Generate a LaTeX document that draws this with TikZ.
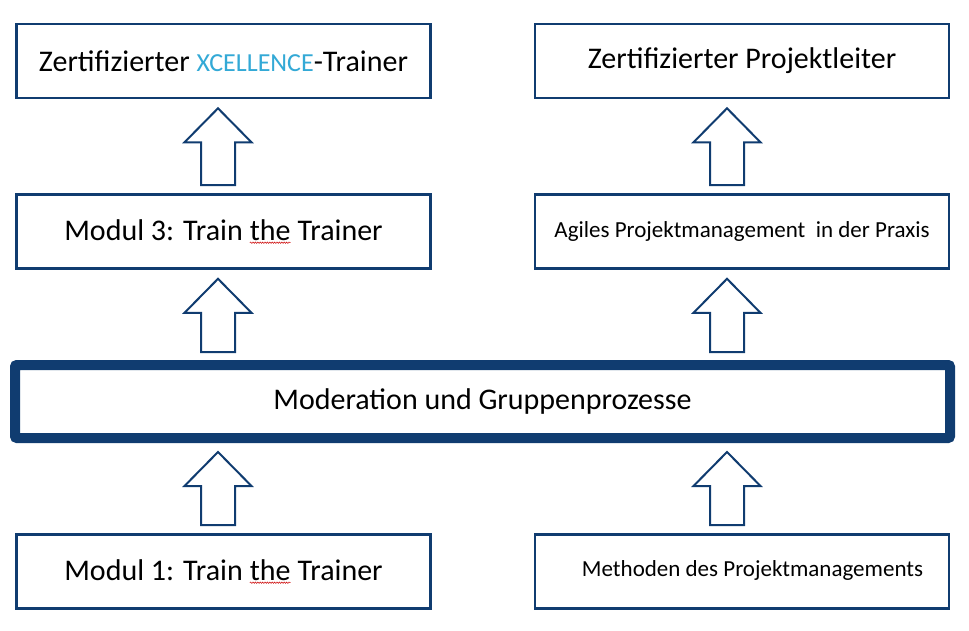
\documentclass[tikz,border=0pt]{standalone}
\usepackage{fontspec}
\setmainfont{Carlito}
\usetikzlibrary{calc,decorations.pathmorphing}
\definecolor{boxblue}{RGB}{16,60,112}
\definecolor{logoblue}{RGB}{51,169,214}
\tikzset{
  modbox/.style={draw=boxblue, line width=2.6pt, fill=white, minimum width=414pt, minimum height=74pt, inner sep=0pt, font=\fontsize{30}{33}\selectfont},
  basebox/.style={draw=boxblue, line width=10pt, rounded corners=2pt, minimum width=935pt, minimum height=73pt, inner sep=0pt, font=\fontsize{30}{33}\selectfont},
  blockarrow/.style={draw=boxblue, line width=2pt, fill=white, line join=miter}
}
% up arrow between two boxes: lower box, upper box, x position
\newcommand{\blockarrow}[3]{%
  \draw[blockarrow] let \p1=($(#2.south -| #3)+(0,9)$), \p2=($(#1.north -| #3)+(0,-8)$) in
    (\x1,\y1) -- (\x1+33.5pt,\y1-34pt) -- (\x1+17pt,\y1-34pt) -- (\x1+17pt,\y2)
    -- (\x1-17pt,\y2) -- (\x1-17pt,\y1-34pt) -- (\x1-33.5pt,\y1-34pt) -- cycle;}
\newcommand{\spellmark}[1]{\tikz[baseline=(w.base)]{\node[draw=none,fill=none,minimum width=0pt,minimum height=0pt,inner sep=0pt,outer sep=0pt] (w) {#1};
  \draw[red!80!black, line width=0.5pt, decorate, decoration={snake,amplitude=0.7pt,segment length=2.4pt}] ([yshift=-2.5pt]w.base west) -- ([yshift=-2.5pt]w.base east);}}
\begin{document}
\begin{tikzpicture}[x=1pt,y=-1pt]
\useasboundingbox (0,0) rectangle (969,631);
\coordinate (axL) at (218,0);
\coordinate (axR) at (727,0);

\node[modbox] (trainer) at (223.5,61) {Zertifizierter {\color{logoblue}\fontsize{26}{28}\selectfont XCELLENCE}-Trainer};
\node[modbox] (leiter) at (742,61) {\raisebox{-2pt}{Zertifizierter Projektleiter}};
\node[modbox] (modul3) at (223.5,231.5) {Modul 3: Train \spellmark{the} Trainer};
\node[modbox, font=\fontsize{23}{26}\selectfont] (agil) at (742,231.5) {\raisebox{3pt}{Agiles Projektmanagement \ in der Praxis}};
\node[basebox] (moderation) at (482.5,401.5) {Moderation und Gruppenprozesse};
\node[modbox] (modul1) at (223.5,571.5) {\raisebox{-4pt}{Modul 1: Train \spellmark{the} Trainer}};
\node[modbox, font=\fontsize{23}{26}\selectfont] (methoden) at (742,571.5) {\hspace*{21pt}\raisebox{5pt}{Methoden des Projektmanagements}};

\blockarrow{modul3}{trainer}{axL}
\blockarrow{agil}{leiter}{axR}
\blockarrow{moderation}{modul3}{axL}
\blockarrow{moderation}{agil}{axR}
\blockarrow{modul1}{moderation}{axL}
\blockarrow{methoden}{moderation}{axR}
\end{tikzpicture}
\end{document}
